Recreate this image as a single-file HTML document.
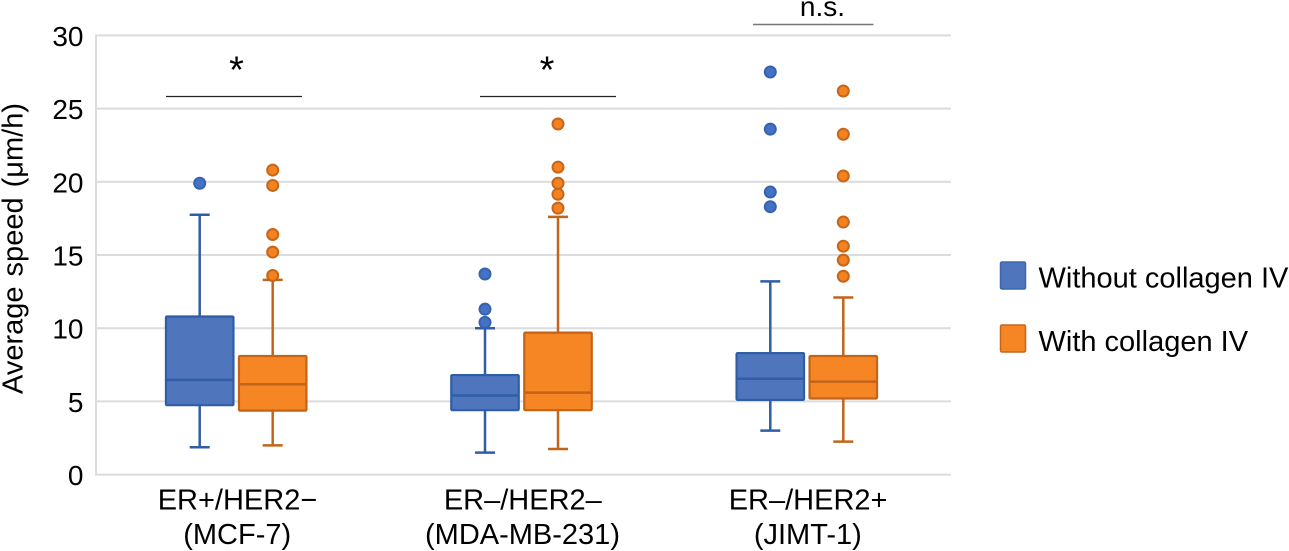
<!DOCTYPE html>
<html lang="en">
<head>
<meta charset="utf-8">
<title>Average speed box plot</title>
<style>
html,body{margin:0;padding:0;background:#fff;width:1289px;height:551px;overflow:hidden}
svg{display:block;font-family:"Liberation Sans",sans-serif;fill:#000}
</style>
</head>
<body>
<svg id="chart" xmlns="http://www.w3.org/2000/svg" width="1289" height="551" viewBox="0 0 1289 551">
  <g id="grid"></g>
  <g id="yticks"></g>
  <g id="xticks"></g>
  <g id="marks"></g>
  <text transform="translate(22.5,248.5) rotate(-90)" text-anchor="middle" font-size="29" word-spacing="2">Average speed (μm/h)</text>

  <line x1="166" x2="302" y1="96.5" y2="96.5" stroke="#222" stroke-width="1.2"/>
  <text x="236.5" y="82.5" text-anchor="middle" font-size="38">*</text>
  <line x1="480" x2="616" y1="96.5" y2="96.5" stroke="#222" stroke-width="1.2"/>
  <text x="547" y="82.5" text-anchor="middle" font-size="38">*</text>
  <line x1="753" x2="873.5" y1="24.5" y2="24.5" stroke="#777" stroke-width="1.4"/>
  <text x="822.5" y="16" text-anchor="middle" font-size="28">n.s.</text>

  <g>
    <rect x="1000.5" y="262" width="25" height="27" rx="1.5" fill="#4f76bd" stroke="#3b66ae" stroke-width="1.5"/>
    <text x="1038.5" y="287.5" font-size="29">Without collagen IV</text>
    <rect x="1000.5" y="325" width="25" height="27" rx="1.5" fill="#f68524" stroke="#c5661a" stroke-width="1.5"/>
    <text x="1038.5" y="351" font-size="29">With collagen IV</text>
  </g>
</svg>
<script>
const yTickValues = [0, 5, 10, 15, 20, 25, 30];
const categoryLine1 = ["ER+/HER2−", "ER–/HER2–", "ER–/HER2+"];
const categoryLine2 = ["(MCF-7)", "(MDA-MB-231)", "(JIMT-1)"];
const seriesNames = ["without-collagen", "with-collagen"];

const withoutLow = [1.87, 1.5, 3.0];
const withoutQ1 = [4.74, 4.4, 5.1];
const withoutMedian = [6.47, 5.4, 6.55];
const withoutQ3 = [10.8, 6.8, 8.3];
const withoutHigh = [17.75, 10.0, 13.2];
const withoutOutliers = [
  [19.9],
  [10.4, 11.3, 13.7],
  [18.3, 19.3, 23.6, 27.5]
];

const withLow = [2.0, 1.75, 2.25];
const withQ1 = [4.37, 4.4, 5.2];
const withMedian = [6.17, 5.6, 6.35];
const withQ3 = [8.1, 9.7, 8.1];
const withHigh = [13.3, 17.6, 12.1];
const withOutliers = [
  [13.6, 15.2, 16.4, 19.75, 20.8],
  [18.2, 19.15, 19.9, 21.0, 23.95],
  [13.55, 14.65, 15.6, 17.25, 20.4, 23.25, 26.2]
];

const NS = "http://www.w3.org/2000/svg";
const yScale = v => 474.6 - v * 14.64;
const xCategory = i => 236.2 + i * 285.3;
const xSeries = (i, s) => xCategory(i) + (s === 0 ? -36.5 : 36.5);
const plotLeft = 96;
const plotRight = 951;
const boxWidth = 67.5;
const capHalf = 10;

function make(tag, parent, attrs, text) {
  const el = document.createElementNS(NS, tag);
  for (const k in attrs) el.setAttribute(k, attrs[k]);
  if (text !== undefined) el.textContent = text;
  parent.appendChild(el);
  return el;
}

const grid = document.getElementById("grid");
const yticks = document.getElementById("yticks");
const xticks = document.getElementById("xticks");
const marks = document.getElementById("marks");

const axisLine = make("line", grid, {x1: plotLeft, x2: plotLeft, y1: yScale(30), y2: yScale(0), stroke: "#dcdcdc", "stroke-width": 2});



yTickValues.forEach(v => {
  const g = make("line", grid, {x1: plotLeft - 1, x2: plotRight, y1: yScale(v), y2: yScale(v), stroke: "#dcdcdc", "stroke-width": 2});
  
  
  const t = make("text", yticks, {x: 83.5, y: yScale(v) + 10.5, "text-anchor": "end", "font-size": 28}, String(v));
  
  
});

categoryLine1.forEach((label, i) => {
  const a = make("text", xticks, {x: xCategory(i) + 1.3, y: 509.5, "text-anchor": "middle", "font-size": 29}, label);
  
  
  const b = make("text", xticks, {x: xCategory(i) + 1, y: 544, "text-anchor": "middle", "font-size": 29}, categoryLine2[i]);
  
  
});

const seriesData = [
  {low: withoutLow, q1: withoutQ1, med: withoutMedian, q3: withoutQ3, high: withoutHigh, out: withoutOutliers, fill: "#4f76bd", stroke: "#2f5ea6", dot: "#4472c4", dotStroke: "#3763ae"},
  {low: withLow, q1: withQ1, med: withMedian, q3: withQ3, high: withHigh, out: withOutliers, fill: "#f68524", stroke: "#c2641a", dot: "#f58220", dotStroke: "#c5661a"}
];

seriesData.forEach((d, s) => {
  categoryLine1.forEach((_, i) => {
    const cx = xSeries(i, s);
    const group = make("g", marks, {});
    
    

    const wh = make("line", group, {x1: cx, x2: cx, y1: yScale(d.high[i]), y2: yScale(d.low[i]), stroke: d.stroke, "stroke-width": 2.5});
    
    

    [d.high[i], d.low[i]].forEach(v => {
      const cap = make("line", group, {x1: cx - capHalf, x2: cx + capHalf, y1: yScale(v), y2: yScale(v), stroke: d.stroke, "stroke-width": 2.5});
      
      
    });

    const box = make("rect", group, {x: cx - boxWidth / 2, y: yScale(d.q3[i]), width: boxWidth, height: yScale(d.q1[i]) - yScale(d.q3[i]), fill: d.fill, stroke: d.stroke, "stroke-width": 2.2, rx: 1});
    
    

    const med = make("line", group, {x1: cx - boxWidth / 2, x2: cx + boxWidth / 2, y1: yScale(d.med[i]), y2: yScale(d.med[i]), stroke: d.stroke, "stroke-width": 2.5});
    
    

    d.out[i].forEach(v => {
      const dot = make("circle", group, {cx: cx, cy: yScale(v), r: 5.5, fill: d.dot, stroke: d.dotStroke, "stroke-width": 2});
      
      
    });
  });
});
</script>
</body>
</html>
